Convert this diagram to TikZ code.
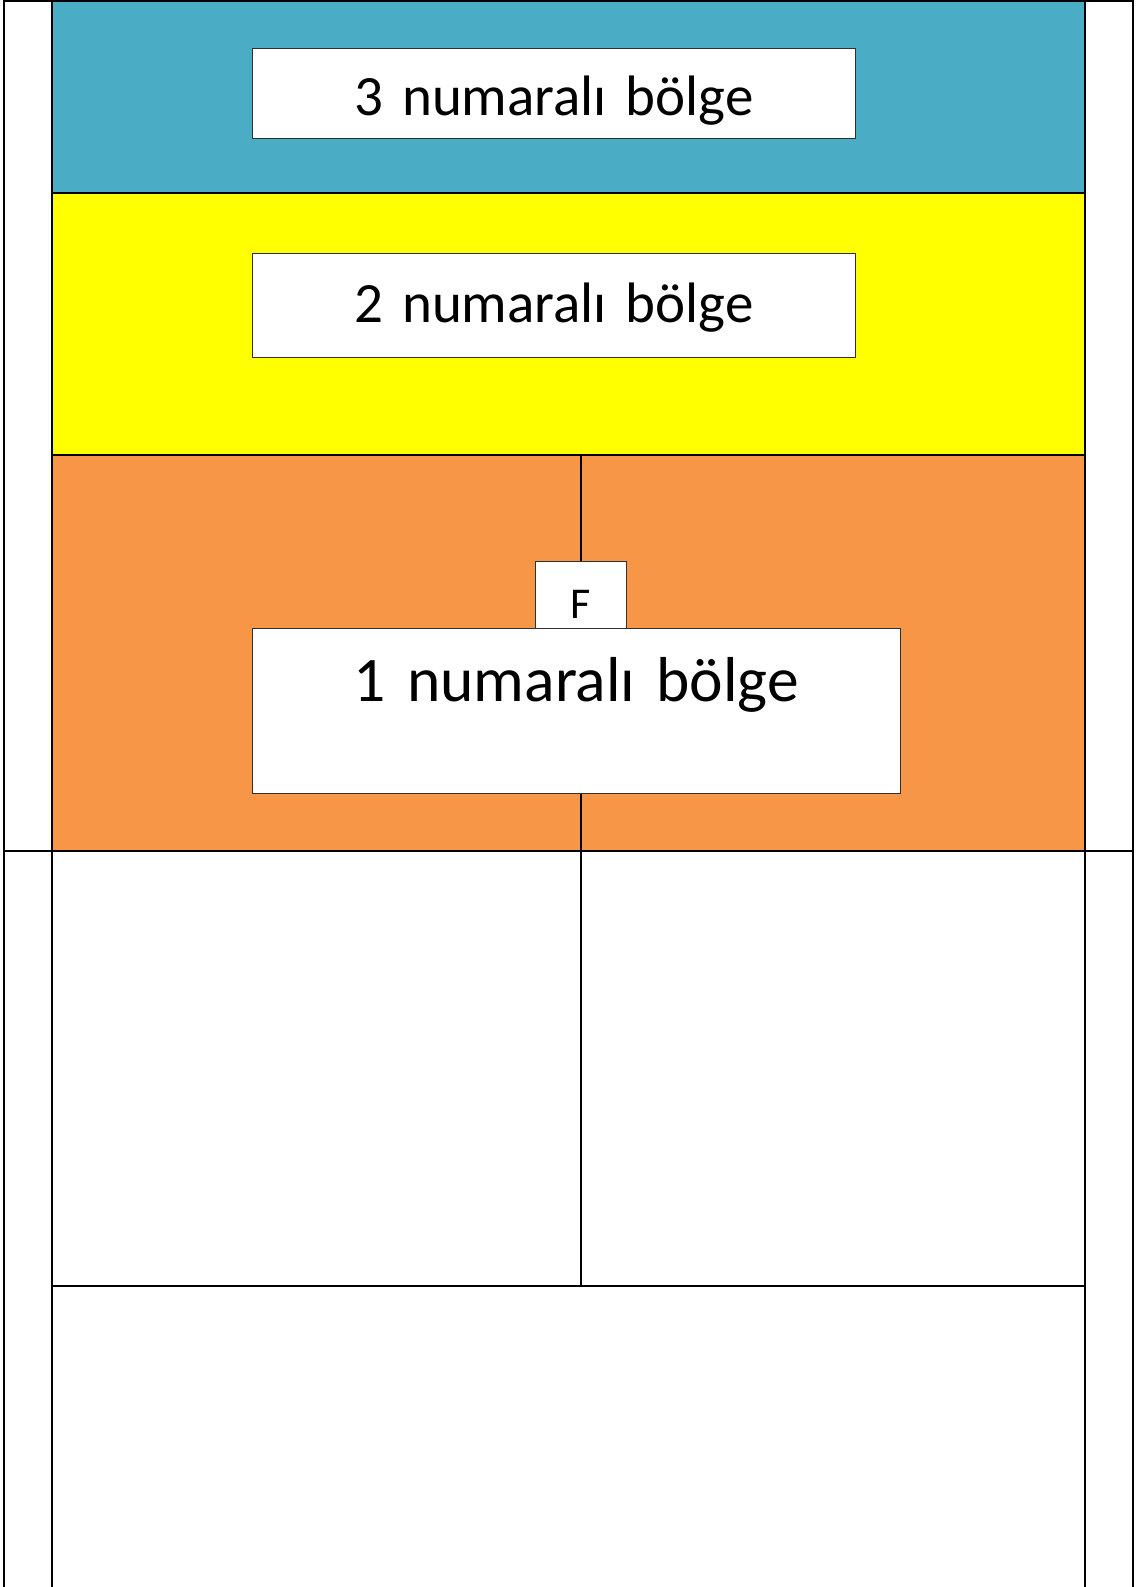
\documentclass[tikz,border=0pt]{standalone}
\usepackage{fontspec}
\setmainfont{Carlito}
\usepackage{tikz}
\usetikzlibrary{positioning}
\definecolor{zoneblue}{HTML}{4BACC6}
\definecolor{zoneyellow}{HTML}{FFFF00}
\definecolor{zoneorange}{HTML}{F79646}
\definecolor{tagedge}{HTML}{303030}

\begin{document}
\begin{tikzpicture}[x=1pt,y=-1pt,
  court/.style={draw=black,line width=1.6pt},
  split/.style={draw=black,line width=1.1pt},
  tag/.style={rectangle,draw=tagedge,fill=white,line width=1pt,inner sep=0pt,align=center,anchor=north west},
  bigtext/.style={font=\fontsize{57}{60}\selectfont},
  hugetext/.style={font=\fontsize{63.5}{66}\selectfont}]
\useasboundingbox (0,0) rectangle (1135,1587);

% zones
\fill[zoneblue]   (52,1)   rectangle (1085,193);
\fill[zoneyellow] (52,193) rectangle (1085,455);
\fill[zoneorange] (52,455) rectangle (1085,851);

% court lines
\draw[court] (4,1600) -- (4,1) -- (1133,1) -- (1133,1600);
\draw[court] (52,1) -- (52,1600);
\draw[court] (1085,1) -- (1085,1600);
\draw[court] (52,193) -- (1085,193);
\draw[court] (52,455) -- (1085,455);
\draw[court] (4,851) -- (1133,851);
\draw[court] (52,1286) -- (1085,1286);

\coordinate (mid_top) at (581,455);
\coordinate (mid_net) at (581,851);
\coordinate (mid_low) at (581,1286);

% labels
\node[tag,bigtext,text width=603pt,text height=67pt,text depth=23pt] (z_3) at (252,48) {3 numaralı bölge};
\node[tag,bigtext,text width=603pt,text height=69pt,text depth=35pt] (z_2) at (252,253) {2 numaralı bölge};
\node[tag,font=\fontsize{44}{46}\selectfont,text width=91pt,text height=57pt,text depth=10pt] (f_box) at (535,561) {F};
\node[tag,hugetext,text width=648pt,text height=73pt,text depth=92pt] (z_1) at (252,628) {1 numaralı bölge};

\path[split]
(mid_top) edge (f_box.north)
(z_1.south -| mid_net) edge (mid_net)
(mid_net) edge (mid_low)
; %end path
\end{tikzpicture}
\end{document}
